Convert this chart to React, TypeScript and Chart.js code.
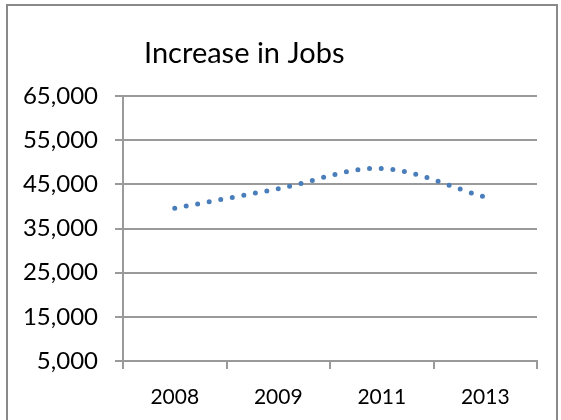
import React, { useEffect, useRef } from 'react';
import { Chart, registerables } from 'chart.js';

Chart.register(...registerables);

const categories = ['2008', '2009', '2011', '2013'];
const jobIncrease = [39600, 44000, 48600, 42100];
const yTicks = [5000, 15000, 25000, 35000, 45000, 55000, 65000];
const chartTitle = 'Increase in Jobs';

const FONT = 'Lato, "Open Sans", sans-serif';
const GRID = '#9a9a9a';

const framePlugin = {
  id: 'frameAndTitle',
  beforeDraw(chart: any) {
    const ctx = chart.ctx;
    ctx.save();
    ctx.fillStyle = '#ffffff';
    ctx.fillRect(0, 0, chart.width, chart.height);
    ctx.strokeStyle = '#898989';
    ctx.lineWidth = 2;
    ctx.strokeRect(7, 5, 550, 440);
    ctx.restore();
  },
  afterDraw(chart: any) {
    const ctx = chart.ctx;
    ctx.save();
    ctx.fillStyle = '#000000';
    ctx.font = `29px ${FONT}`;
    ctx.textAlign = 'left';
    ctx.textBaseline = 'middle';
    ctx.fillText(chartTitle, 144, 54);
    ctx.restore();
  },
};

export default function App() {
  const ref = useRef<HTMLCanvasElement | null>(null);

  useEffect(() => {
    if (!ref.current) return;
    const chart = new Chart(ref.current, {
      type: 'line',
      data: {
        labels: categories,
        datasets: [
          {
            label: chartTitle,
            data: jobIncrease,
            borderColor: '#4a7ebb',
            borderWidth: 5,
            borderDash: [0, 11.7],
            borderCapStyle: 'round',
            tension: 0.33,
            pointRadius: 0,
            pointHoverRadius: 0,
            fill: false,
          },
        ],
      },
      options: {
        animation: false,
        responsive: false,
        maintainAspectRatio: false,
        events: [],
        layout: { padding: { top: 96, right: 24, left: 0, bottom: 0 } },
        plugins: {
          legend: { display: false },
          title: { display: false },
          tooltip: { enabled: false },
        },
        scales: {
          x: {
            type: 'category',
            offset: true,
            grid: {
              offset: true,
              drawOnChartArea: false,
              drawTicks: true,
              tickLength: 8,
              color: GRID,
              lineWidth: 2,
            },
            border: { display: true, color: GRID, width: 2 },
            ticks: {
              color: '#000000',
              font: { family: FONT, size: 21 },
              padding: 16,
              maxRotation: 0,
              autoSkip: false,
            },
            afterFit(scale: any) {
              scale.height = 59;
            },
          },
          y: {
            type: 'linear',
            min: 5000,
            max: 65000,
            afterBuildTicks(scale: any) {
              scale.ticks = yTicks.map((v) => ({ value: v }));
            },
            grid: {
              drawOnChartArea: true,
              drawTicks: true,
              tickLength: 8,
              color: GRID,
              lineWidth: 2,
            },
            border: { display: true, color: GRID, width: 2 },
            ticks: {
              color: '#000000',
              font: { family: FONT, size: 24 },
              padding: 17,
              callback: (v: any) => Number(v).toLocaleString('en-US'),
            },
            afterFit(scale: any) {
              scale.width = 123;
            },
          },
        },
      },
      plugins: [framePlugin],
    });
    return () => chart.destroy();
  }, []);

  return (
    <div style={{ position: 'fixed', left: 0, top: 0, width: 561, height: 420 }}>
      <canvas ref={ref} width={561} height={420} style={{ width: 561, height: 420, display: 'block' }} />
    </div>
  );
}
